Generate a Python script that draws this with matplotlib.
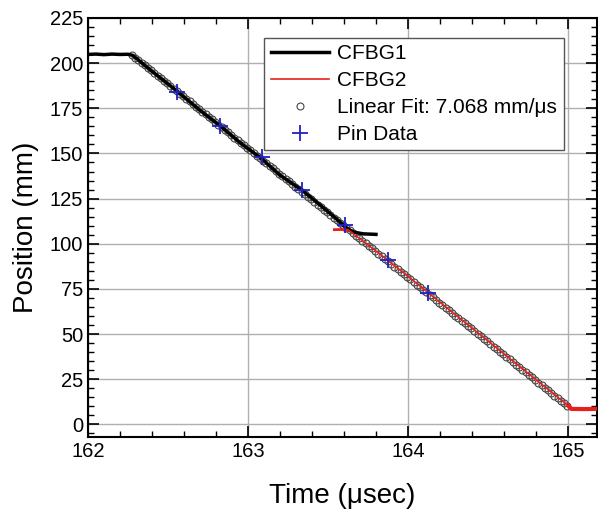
import numpy as np
import matplotlib
matplotlib.use("Agg")
import matplotlib.pyplot as plt
from matplotlib.ticker import MultipleLocator

plt.rcParams['font.family'] = ['Liberation Sans', 'DejaVu Sans']

# CFBG1 (black)
cfbg1_t = [162.00, 162.05, 162.10, 162.15, 162.20, 162.25, 162.28, 162.40, 162.55,
           162.70, 162.83, 162.95, 163.08, 163.20, 163.34, 163.45, 163.55, 163.62,
           163.66, 163.72, 163.80]
cfbg1_pos = [204.8, 205.0, 204.7, 205.0, 204.8, 204.9, 204.3, 195.5, 185.0,
             173.9, 165.0, 156.0, 147.5, 138.0, 129.5, 121.5, 114.0, 108.5,
             106.5, 105.5, 105.2]

# CFBG2 (red)
cfbg2_t = [163.54, 163.58, 163.62, 163.64, 163.80, 164.00, 164.25, 164.50,
           164.75, 165.00, 165.02, 165.10, 165.18]
cfbg2_pos = [107.8, 107.9, 107.6, 106.8, 96.0, 82.0, 64.0, 46.2,
             28.3, 10.5, 8.6, 8.5, 8.6]

# Linear fit
fit_t_start, fit_t_end, fit_step = 162.275, 165.0, 0.02
fit_pos_start = 204.5
fit_slope = -71.4  # mm per µs in plotted units

# Pin data
pin_t = [162.554, 162.825, 163.085, 163.34, 163.606, 163.875, 164.125]
pin_pos = [184.2, 165.3, 148.3, 129.9, 110.6, 91.2, 73.0]

fit_t = np.arange(fit_t_start, fit_t_end + 1e-9, fit_step)
fit_pos = fit_pos_start + fit_slope * (fit_t - fit_t_start)

fig = plt.figure(figsize=(5.98, 5.13), dpi=100)
ax = fig.add_axes([0.147, 0.148, 0.851, 0.817])

ax.grid(True, which='major', color='#b0b0b0', lw=1.0, zorder=0)

ax.plot(fit_t, fit_pos, 'o', mfc='none', mec='#444444', ms=5, mew=0.8,
        label='Linear Fit: 7.068 mm/μs', zorder=2)
ax.plot(cfbg1_t, cfbg1_pos, '-', color='black', lw=2.5, label='CFBG1', zorder=3)
c2t = np.array(cfbg2_t); c2p = np.array(cfbg2_pos)
ax.plot(c2t, c2p, '-', color='#e8201c', lw=1.2, label='CFBG2', zorder=3)
ax.plot(c2t[c2t >= 165.0], c2p[c2t >= 165.0], '-', color='#e8201c', lw=3, zorder=3)
ax.plot(c2t[c2t <= 163.62], c2p[c2t <= 163.62], '-', color='#e8201c', lw=2.0, zorder=3)
ax.plot(pin_t, pin_pos, '+', color='#2020c8', ms=12, mew=1.3, label='Pin Data', zorder=4)

ax.set_xlim(162, 165.18)
ax.set_ylim(-7, 225)
ax.xaxis.set_major_locator(MultipleLocator(1))
ax.xaxis.set_minor_locator(MultipleLocator(0.2))
ax.yaxis.set_major_locator(MultipleLocator(25))
ax.yaxis.set_minor_locator(MultipleLocator(5))
ax.tick_params(which='both', direction='in', top=True, right=True, labelsize=14.5)
ax.tick_params(which='major', length=8, width=1.2)
ax.tick_params(which='minor', length=4, width=1.0)
for s in ax.spines.values():
    s.set_linewidth(1.5)

ax.set_xlabel('Time (μsec)', fontsize=20)
ax.set_ylabel('Position (mm)', fontsize=20)
ax.xaxis.set_label_coords(0.5, -0.11)
ax.yaxis.set_label_coords(-0.097, 0.5)

h, l = ax.get_legend_handles_labels()
order = [l.index('CFBG1'), l.index('CFBG2'), l.index('Linear Fit: 7.068 mm/μs'), l.index('Pin Data')]
leg = ax.legend([h[i] for i in order], [l[i] for i in order], loc='upper left',
                bbox_to_anchor=(0.347, 0.952), fontsize=15, frameon=True, fancybox=False,
                edgecolor='#555555', framealpha=1, borderpad=0.3, labelspacing=0.38,
                handlelength=2.8, handletextpad=0.4, borderaxespad=0)
leg.get_frame().set_linewidth(1.0)

fig.savefig('out.png', dpi=100)
